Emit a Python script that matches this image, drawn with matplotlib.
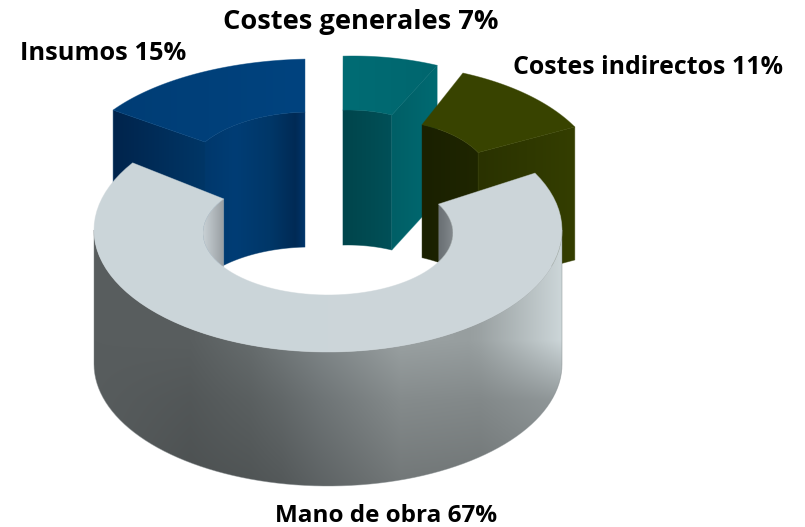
import numpy as np
import matplotlib
matplotlib.use("Agg")
import matplotlib.pyplot as plt
from matplotlib.patches import Polygon
from matplotlib.colors import to_rgb

categories = ["Insumos", "Costes generales", "Costes indirectos", "Mano de obra"]
values = [15, 7, 11, 67]
labels = [f"{c} {v}%" for c, v in zip(categories, values)]

START_ANGLE = 146.6
# ellipse: cx, cy, rx, ry
GEOM = {
    "Insumos": dict(o=(316, 172.6, 243, 113.6), i=(310.7, 178.8, 126.6, 66.8), h=135),
    "Costes generales": dict(o=(353, 178, 219, 122), i=(348, 175, 114, 65), h=135),
    "Costes indirectos": dict(o=(377, 182, 223.6, 118), i=(379, 181, 112, 61), h=133),
    "Mano de obra": dict(o=(328, 230, 234, 122), i=(328, 233, 125, 62), h=134),
}

fig = plt.figure(figsize=(8.05, 5.27), dpi=100)
ax = fig.add_axes([0, 0, 1, 1])
ax.axis("off")
z = [1]


def arc(e, a1, a2, n=80):
    t = np.radians(np.linspace(a1, a2, n))
    return np.column_stack([e[0] + e[2] * np.cos(t), e[1] - e[3] * np.sin(t)])


def drop(pts, h):
    return pts + np.array([0, h])


def wall(pts, h):
    return np.vstack([pts, drop(pts, h)[::-1]])


def paint(verts, xstops, vfade=None):
    """Fill polygon with a horizontal colour ramp, optionally fading vertically."""
    verts = np.asarray(verts)
    x0, x1 = verts[:, 0].min(), verts[:, 0].max()
    y0, y1 = verts[:, 1].min(), verts[:, 1].max()
    xs = np.linspace(x0, x1, max(int(x1 - x0), 2))
    pos = [p for p, _ in xstops]
    cols = np.array([to_rgb(c) for _, c in xstops])
    row = np.column_stack([np.interp(xs, pos, cols[:, k]) for k in range(3)])
    if vfade is None:
        img = row[None, :, :]
    else:
        ys = np.linspace(y0, y1, max(int(y1 - y0), 2))
        f = np.array([np.interp(ys, [p for p, _ in fd], [m for _, m in fd]) for fd in vfade(xs)]).T
        img = np.clip(row[None, :, :] * f[:, :, None], 0, 1)
    im = ax.imshow(img, extent=(x0, x1, y1, y0), aspect="auto", zorder=z[0],
                   interpolation="bilinear", origin="upper")
    im.set_clip_path(Polygon(verts, closed=True, transform=ax.transData))
    edge = xstops[len(xstops) // 2][1]
    ax.add_patch(Polygon(verts, closed=True, fill=False, ec=edge, lw=0.6, alpha=0.5, zorder=z[0] + 0.5))
    z[0] += 1


# slice angles from values, clockwise from the start angle
angles = {}
cur = START_ANGLE
for c, v in zip(categories, values):
    angles[c] = (cur, cur - v * 3.6)
    cur -= v * 3.6

# Insumos
g = GEOM["Insumos"]
hi, lo = angles["Insumos"]
paint(wall(np.vstack([arc(g["o"], hi, hi, 2)[:1], arc(g["i"], hi, hi, 2)[:1]]), g["h"]),
      [(113, "#00244c"), (205, "#003666")])
paint(wall(arc(g["i"], hi, lo), g["h"]),
      [(205, "#00386c"), (235, "#003d75"), (270, "#003768"), (296, "#002a55"), (305, "#00356a")])
paint(np.vstack([arc(g["o"], hi, lo), arc(g["i"], lo, hi)]),
      [(113, "#003d75"), (305, "#00437f")])

# Costes generales
g = GEOM["Costes generales"]
hi, lo = angles["Costes generales"]
paint(wall(arc(g["i"], hi, lo), g["h"]),
      [(343, "#00454c"), (375, "#004c53"), (392, "#005058")])
paint(wall(np.vstack([arc(g["i"], lo, lo, 2)[:1], arc(g["o"], lo, lo, 2)[:1]]), g["h"]),
      [(392, "#005f66"), (437, "#006a72")])
paint(np.vstack([arc(g["o"], hi, lo), arc(g["i"], lo, hi)]),
      [(343, "#006c74"), (437, "#00666e")])

# Costes indirectos
g = GEOM["Costes indirectos"]
hi, lo = angles["Costes indirectos"]
paint(wall(arc(g["i"], hi, lo), g["h"]),
      [(422, "#1a2000"), (478, "#1f2600")])
paint(wall(np.vstack([arc(g["i"], lo, lo, 2)[:1], arc(g["o"], lo, lo, 2)[:1]]), g["h"]),
      [(478, "#2a3200"), (575, "#343e00")])
paint(np.vstack([arc(g["o"], hi, lo), arc(g["i"], lo, hi)]),
      [(422, "#384300"), (575, "#394400")])

# Mano de obra (drawn last, in front)
g = GEOM["Mano de obra"]
hi, lo = angles["Mano de obra"]
o, i = g["o"], g["i"]
h = g["h"]
left_cut = lo + 360
right_cut = hi
# inner wall pieces seen through the hole
paint(arc(i, left_cut, 360 - left_cut), [(203, "#c8d0d4"), (212, "#b4bbbf"), (224, "#989ea2")])
paint(arc(i, right_cut, -right_cut), [(440, "#6c7276"), (453, "#848a8e")])


def fade(xs):
    out = []
    for x in xs:
        t = np.clip((x - 94) / (562 - 94), 0, 1)
        bright = 1.0 + 0.22 * np.clip((t - 0.8) / 0.2, 0, 1)
        low = 0.98 - 0.25 * np.clip(t / 0.4, 0, 1)
        out.append([(230, bright), (340, bright), (400, 0.5 * (1 + low)), (490, low)])
    return out


paint(wall(arc(o, 180, 360), h),
      [(94, "#585d5e"), (190, "#595e5f"), (250, "#666c6d"), (320, "#7f8688"),
       (400, "#9aa1a2"), (480, "#979e9f"), (562, "#a8b0b2")], vfade=fade)
paint(np.vstack([arc(o, left_cut, right_cut + 360), arc(i, right_cut + 360, left_cut)]),
      [(94, "#cbd5d9"), (562, "#cdd6da")])

ax.set_xlim(0, 805)
ax.set_ylim(527, 0)

pos = {"Insumos": (103, 53), "Costes generales": (361, 22),
       "Costes indirectos": (648, 68), "Mano de obra": (386, 516)}
sizes = {"Insumos": 18.3, "Costes generales": 19.6, "Costes indirectos": 17.9, "Mano de obra": 17.5}
for c, lab in zip(categories, labels):
    ax.text(*pos[c], lab, ha="center", va="center", fontsize=sizes[c], fontweight="bold",
            family="Open Sans", color="black", zorder=100)

fig.savefig("out.png", dpi=100)
